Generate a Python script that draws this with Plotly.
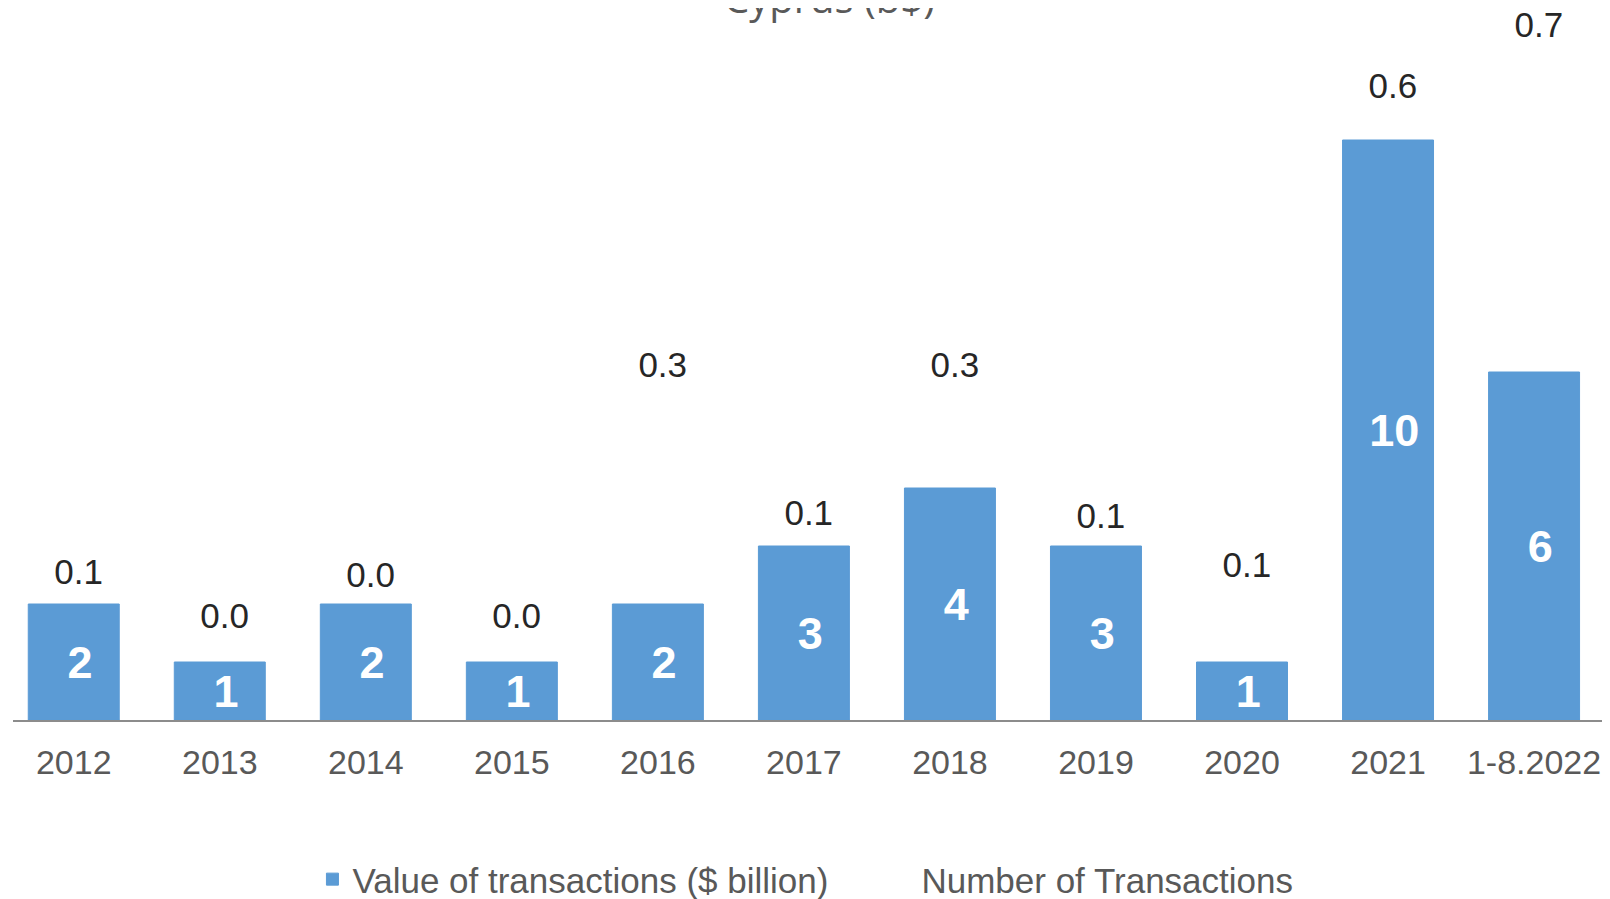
import plotly.graph_objects as go

# ---- data ----
categories = ["2012", "2013", "2014", "2015", "2016", "2017", "2018", "2019", "2020", "2021", "1-8.2022"]
num_transactions = [2, 1, 2, 1, 2, 3, 4, 3, 1, 10, 6]
value_bn = [0.052, 0.0, 0.049, 0.0, 0.30, 0.123, 0.30, 0.119, 0.061, 0.633, 0.706]

legend_bar = "Value of transactions ($ billion)"
legend_other = "Number of Transactions"
title_text = "Cyprus (b$)"

BLUE = "#5b9bd5"
GREY = "#595959"
FONT = "Liberation Sans, Arial, sans-serif"

fig = go.Figure()

fig.add_trace(go.Bar(
    x=categories, y=num_transactions, name=legend_bar,
    marker=dict(color=BLUE, line=dict(color=BLUE, width=1)),
    texttemplate="\u00a0%{y}", textposition="inside", insidetextanchor="middle",
    constraintext="none",
    textfont=dict(family=FONT, size=45, color="white", weight="bold"),
    hoverinfo="skip",
))

fig.add_trace(go.Bar(
    x=categories, y=value_bn, name=legend_other, yaxis="y2",
    marker=dict(color="rgba(0,0,0,0)", line=dict(width=0)),
    hoverinfo="skip",
))

fig.add_trace(go.Scatter(
    x=categories, y=value_bn, yaxis="y2", mode="text",
    texttemplate="\u00a0%{y:.1f}", textposition="middle center",
    textfont=dict(family=FONT, size=35, color="#262626"),
    showlegend=False, cliponaxis=False, hoverinfo="skip",
))

fig.update_layout(
    width=1610, height=899, autosize=False,
    margin=dict(l=5, r=8, t=16, b=187, pad=0, autoexpand=False),
    paper_bgcolor="white", plot_bgcolor="white",
    bargap=0.377, barmode="group",
    font=dict(family=FONT, color=GREY),
    xaxis=dict(
        type="category", range=[-0.416, 10.52], automargin=False,
        showline=True, linecolor="#8c8c8c", linewidth=2,
        showgrid=False, zeroline=False, ticks="",
        tickfont=dict(family=FONT, size=34, color=GREY),
        ticklabelstandoff=11,
    ),
    yaxis=dict(range=[0, 12], visible=False, showgrid=False, zeroline=False,
               automargin=False),
    yaxis2=dict(range=[-0.1207, 0.7111], overlaying="y", visible=False,
                showgrid=False, zeroline=False, automargin=False),
    legend=dict(
        orientation="h", x=0.1875, xanchor="left", y=-0.229, yanchor="middle",
        font=dict(family=FONT, size=35, color=GREY),
        entrywidth=524, bgcolor="rgba(0,0,0,0)",
    ),
    annotations=[dict(
        text=title_text, xref="paper", yref="paper", x=0.511, y=1.0374,
        xanchor="center", yanchor="middle", showarrow=False,
        font=dict(family="Open Sans", size=40, color=GREY),
    )],
)

fig.write_html("out.html")
